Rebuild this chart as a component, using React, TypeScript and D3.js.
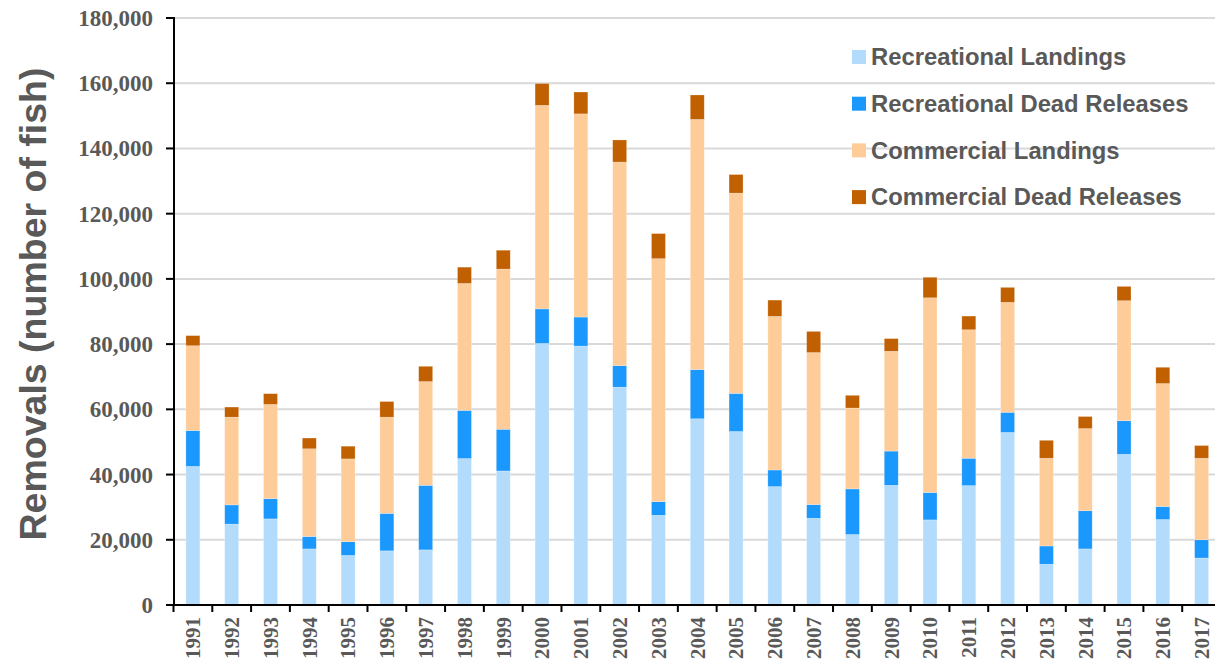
import React from "react";
import * as d3 from "d3";

const years = [
  "1991", "1992", "1993", "1994", "1995", "1996", "1997", "1998", "1999",
  "2000", "2001", "2002", "2003", "2004", "2005", "2006", "2007", "2008",
  "2009", "2010", "2011", "2012", "2013", "2014", "2015", "2016", "2017",
];

const recreationalLandings = [
  42500, 24800, 26400, 17200, 15200, 16600, 16900, 44900, 41100,
  80200, 79400, 66800, 27500, 57100, 53200, 36300, 26600, 21600,
  36700, 26100, 36600, 52900, 12500, 17200, 46200, 26200, 14400,
];
const recreationalDeadReleases = [
  11000, 5900, 6200, 3800, 4200, 11500, 19800, 14800, 12800,
  10600, 8900, 6600, 4200, 15100, 11700, 5100, 4200, 14000,
  10500, 8400, 8400, 6200, 5600, 11700, 10300, 4000, 5600,
];
const commercialLandings = [
  26000, 26900, 28900, 26900, 25400, 29500, 31800, 38900, 49100,
  62400, 62300, 62400, 74500, 76700, 61400, 47100, 46600, 24800,
  30600, 59700, 39400, 33700, 26900, 25200, 36800, 37700, 25000,
];
const commercialDeadReleases = [
  3100, 3100, 3300, 3300, 3900, 4800, 4700, 5000, 5800,
  6700, 6700, 6800, 7700, 7500, 5700, 5000, 6500, 3900,
  3900, 6300, 4200, 4600, 5500, 3700, 4400, 5000, 3900,
];

const seriesNames = [
  "Recreational Landings",
  "Recreational Dead Releases",
  "Commercial Landings",
  "Commercial Dead Releases",
];
const seriesColors = ["#b3dcfc", "#1a98fd", "#fecc99", "#c06000"];
const yTicks = [0, 20000, 40000, 60000, 80000, 100000, 120000, 140000, 160000, 180000];

const W = 1215;
const H = 662;
const TEXT = "#595959";

export default function App() {
  const seriesArrays = [
    recreationalLandings,
    recreationalDeadReleases,
    commercialLandings,
    commercialDeadReleases,
  ];
  const rows = years.map((y, i) => {
    const r: Record<string, number | string> = { year: y };
    seriesNames.forEach((n, k) => (r[n] = seriesArrays[k][i]));
    return r;
  });
  const stacked = d3.stack<any>().keys(seriesNames)(rows);

  const x = d3
    .scaleBand<string>()
    .domain(years)
    .range([173.5, 1221])
    .paddingInner(0.64)
    .paddingOuter(0.32);
  const y = d3.scaleLinear().domain([0, 180000]).range([605, 18]);
  const step = x.step();
  const fmt = d3.format(",");

  return (
    <svg
      width={W}
      height={H}
      style={{ position: "absolute", left: 0, top: 0, display: "block", background: "#fff" }}
    >
      {/* gridlines */}
      {yTicks.slice(1).map((t) => (
        <line key={t} x1={174} x2={W} y1={y(t)} y2={y(t)} stroke="#d9d9d9" strokeWidth={2} />
      ))}

      {/* bars */}
      {stacked.map((s, k) => (
        <g key={s.key} fill={seriesColors[k]}>
          {s.map((d, i) => (
            <rect
              key={i}
              x={x(years[i])!}
              width={x.bandwidth()}
              y={y(d[1])}
              height={y(d[0]) - y(d[1])}
              stroke="#ffffff"
              strokeOpacity={0.4}
              strokeWidth={0.6}
            />
          ))}
        </g>
      ))}

      {/* y axis */}
      <line x1={174} x2={174} y1={y(180000) - 1} y2={606} stroke="#000" strokeWidth={2} />
      {yTicks.map((t) => (
        <g key={t}>
          <line x1={166} x2={174} y1={y(t)} y2={y(t)} stroke="#000" strokeWidth={2} />
          <text
            x={153}
            y={y(t)}
            dy="0.35em"
            textAnchor="end"
            fontFamily="'Liberation Serif', 'Times New Roman', serif"
            fontWeight="bold"
            fontSize={23}
            fill={TEXT}
          >
            {fmt(t)}
          </text>
        </g>
      ))}

      {/* x axis */}
      <line x1={173} x2={W} y1={605} y2={605} stroke="#000" strokeWidth={2} />
      {years.map((yr) => {
        const cx = x(yr)! + x.bandwidth() / 2;
        return (
          <g key={yr}>
            <line x1={cx - step / 2} x2={cx - step / 2} y1={605} y2={612} stroke="#000" strokeWidth={2} />
            <text
              transform={`translate(${cx},617) rotate(-90)`}
              dy="0.35em"
              textAnchor="end"
              fontFamily="'Liberation Serif', 'Times New Roman', serif"
              fontWeight="bold"
              fontSize={21}
              fill={TEXT}
            >
              {yr}
            </text>
          </g>
        );
      })}

      {/* y axis title */}
      <text
        transform={`translate(46,304) rotate(-90)`}
        textAnchor="middle"
        fontFamily="'Liberation Sans', Arial, sans-serif"
        fontWeight="bold"
        fontSize={37.5}
        fill={TEXT}
      >
        Removals (number of fish)
      </text>

      {/* legend */}
      {seriesNames.map((n, k) => {
        const cy = 57 + k * 46.7;
        return (
          <g key={n}>
            <rect x={852} y={cy - 7} width={14} height={14} fill={seriesColors[k]} />
            <text
              x={871}
              y={cy}
              dy="0.35em"
              fontFamily="'Liberation Sans', Arial, sans-serif"
              fontWeight="bold"
              fontSize={23.8}
              fill={TEXT}
            >
              {n}
            </text>
          </g>
        );
      })}
    </svg>
  );
}
